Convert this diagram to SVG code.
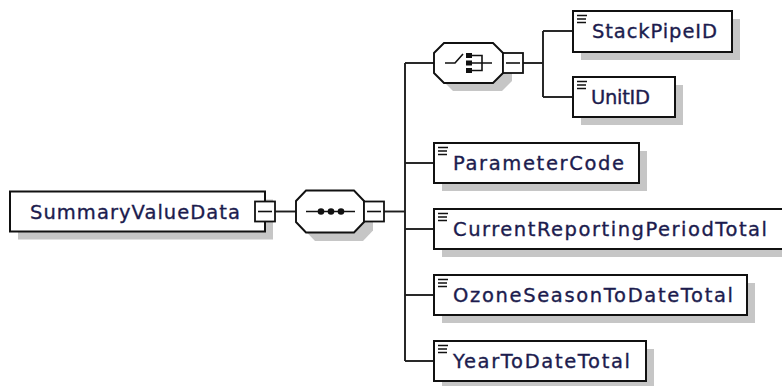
<svg xmlns="http://www.w3.org/2000/svg" width="782" height="386" viewBox="0 0 782 386">
  <style>
    .shadow { fill: #c6c6c6; stroke: none; }
    .box { fill: #ffffff; stroke: #111111; stroke-width: 2; }
    .oct { fill: #ffffff; stroke: #111111; stroke-width: 1.9; }
    .conn { fill: none; stroke: #1e1e1e; stroke-width: 1.9; }
    .minus { fill: #ffffff; stroke: #111111; stroke-width: 1.8; }
    .mline { stroke: #111111; stroke-width: 1.6; }
    .icon { stroke: #111111; stroke-width: 1.6; fill: none; }
    .lbl { font-family: "DejaVu Sans", Verdana, sans-serif; font-size: 19.5px; fill: #1c1c4e; stroke: #1c1c4e; stroke-width: 0.35px; }
  </style>
  <defs>
    <g id="doc">
      <path d="M4,4.5 H14 M4,8 H13 M4,11.5 H13" stroke="#111111" stroke-width="1.6" fill="none"/>
    </g>
  </defs>

  <g id="connectors">
    <path class="conn" d="M275,211.5 H296"/>
    <path class="conn" d="M384,211.5 H405"/>
    <path class="conn" d="M405,63 V361"/>
    <path class="conn" d="M405,63 H434"/>
    <path class="conn" d="M405,163 H434"/>
    <path class="conn" d="M405,229 H434"/>
    <path class="conn" d="M405,295 H434"/>
    <path class="conn" d="M405,361 H434"/>
    <path class="conn" d="M523,63 H543"/>
    <path class="conn" d="M543,31 V97"/>
    <path class="conn" d="M543,31 H573"/>
    <path class="conn" d="M543,97 H573"/>
  </g>

  <g id="SummaryValueData">
    <rect class="shadow" x="18" y="199.5" width="255" height="40"/>
    <rect class="box" x="10" y="191.5" width="255" height="40"/>
    <text class="lbl" x="30" y="218.5" textLength="210" lengthAdjust="spacing">SummaryValueData</text>
    <rect class="minus" x="255" y="201.5" width="20" height="20"/>
    <line class="mline" x1="258" y1="211.5" x2="272" y2="211.5"/>
  </g>

  <g id="sequence">
    <path class="shadow" d="M315,199 H363 L373,209.5 V230.5 L363,241 H315 L305,230.5 V209.5 Z"/>
    <path class="oct" d="M306,190.5 H354 L364,201 V222 L354,232.5 H306 L296,222 V201 Z"/>
    <line class="icon" x1="306" y1="211.5" x2="355" y2="211.5"/>
    <circle cx="321" cy="211.5" r="3.3" fill="#111111"/>
    <circle cx="331" cy="211.5" r="3.3" fill="#111111"/>
    <circle cx="341" cy="211.5" r="3.3" fill="#111111"/>
    <rect class="minus" x="364" y="201.5" width="20" height="20"/>
    <line class="mline" x1="367" y1="211.5" x2="381" y2="211.5"/>
  </g>

  <g id="choice">
    <path class="shadow" d="M453,51 H502 L512,61 V81 L502,91 H453 L443,81 V61 Z"/>
    <path class="oct" d="M444,43 H493 L503,53 V73 L493,83 H444 L434,73 V53 Z"/>
    <path class="icon" d="M445,63 H455 L463,54"/>
    <rect x="466" y="53" width="6" height="5" fill="#111111"/>
    <rect x="466" y="60.5" width="6" height="5" fill="#111111"/>
    <rect x="466" y="68" width="6" height="5" fill="#111111"/>
    <path class="icon" d="M472,55.5 H482 V70.5 H472 M472,63 H492"/>
    <rect class="minus" x="503" y="53" width="20" height="20"/>
    <line class="mline" x1="506" y1="63" x2="520" y2="63"/>
  </g>

  <g id="StackPipeID">
    <rect class="shadow" x="581" y="19" width="159" height="41"/>
    <rect class="box" x="573" y="11" width="159" height="41"/>
    <use href="#doc" x="573" y="11"/>
    <text class="lbl" x="592" y="38" textLength="125" lengthAdjust="spacing">StackPipeID</text>
  </g>

  <g id="UnitID">
    <rect class="shadow" x="581" y="85" width="102" height="40"/>
    <rect class="box" x="573" y="77" width="102" height="40"/>
    <use href="#doc" x="573" y="77"/>
    <text class="lbl" x="591" y="104" textLength="59" lengthAdjust="spacing">UnitID</text>
  </g>

  <g id="ParameterCode">
    <rect class="shadow" x="442" y="151" width="205" height="40"/>
    <rect class="box" x="434" y="143" width="205" height="40"/>
    <use href="#doc" x="434" y="143"/>
    <text class="lbl" x="453" y="170" textLength="171" lengthAdjust="spacing">ParameterCode</text>
  </g>

  <g id="CurrentReportingPeriodTotal">
    <rect class="shadow" x="442" y="217" width="356" height="40"/>
    <rect class="box" x="434" y="209" width="356" height="40"/>
    <use href="#doc" x="434" y="209"/>
    <text class="lbl" x="453" y="236" textLength="314" lengthAdjust="spacing">CurrentReportingPeriodTotal</text>
  </g>

  <g id="OzoneSeasonToDateTotal">
    <rect class="shadow" x="442" y="283" width="313" height="40"/>
    <rect class="box" x="434" y="275" width="313" height="40"/>
    <use href="#doc" x="434" y="275"/>
    <text class="lbl" x="453" y="302" textLength="280" lengthAdjust="spacing">OzoneSeasonToDateTotal</text>
  </g>

  <g id="YearToDateTotal">
    <rect class="shadow" x="442" y="349" width="212" height="40"/>
    <rect class="box" x="434" y="341" width="212" height="40"/>
    <use href="#doc" x="434" y="341"/>
    <text class="lbl" x="453" y="368" textLength="177" lengthAdjust="spacing">YearToDateTotal</text>
  </g>
</svg>
